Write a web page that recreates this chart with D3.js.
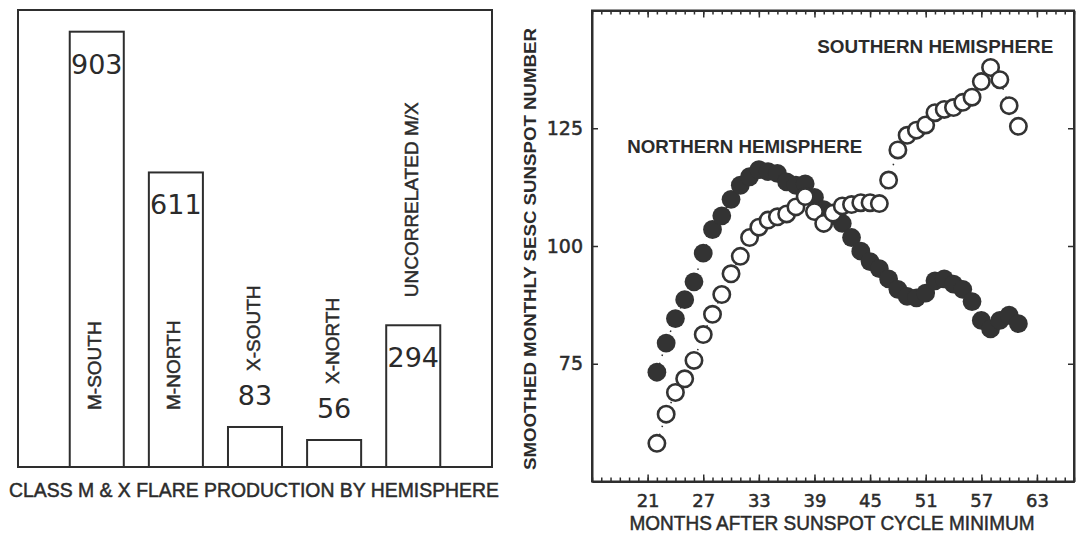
<!DOCTYPE html>
<html>
<head>
<meta charset="utf-8">
<script src="https://cdn.jsdelivr.net/npm/d3@7"></script>
<style>
body { margin: 0; background: #fff; }
svg { display: block; }
text { fill: #2b2b2b; }
</style>
</head>
<body>
<svg id="chart" width="1076" height="539"></svg>
<script>

// left panel: flare counts
const barLabels = ['M-SOUTH', 'M-NORTH', 'X-SOUTH', 'X-NORTH', 'UNCORRELATED M/X']
const barCounts = [903, 611, 83, 56, 294]

// right panel: smoothed sunspot numbers by month after minimum
const months = [22, 23, 24, 25, 26, 27, 28, 29, 30, 31, 32, 33, 34, 35, 36, 37, 38, 39, 40, 41,
	42, 43, 44, 45, 46, 47, 48, 49, 50, 51, 52, 53, 54, 55, 56, 57, 58, 59, 60, 61]

const southern = [58.1, 64.3, 68.9, 71.8, 75.7, 81.2, 85.5, 89.7, 94.1, 97.8,
	101.8, 104.0, 105.5, 106.2, 106.8, 108.3, 110.5, 107.3, 104.8, 107.0,
	108.5, 108.8, 109.2, 109.2, 109.0, 114.0, 120.4, 123.5, 124.6, 125.7,
	128.3, 129.0, 129.4, 130.5, 131.6, 134.9, 137.9, 135.3, 129.8, 125.4]

const northern = [73.2, 79.4, 84.6, 88.6, 92.4, 98.5, 103.5, 106.4, 109.9, 112.9,
	114.7, 116.2, 115.8, 115.4, 113.6, 112.9, 113.2, 110.3, 107.7, 106.6,
	104.8, 101.8, 98.9, 96.7, 95.2, 93.0, 90.8, 89.3, 89.0, 90.0,
	92.6, 93.0, 91.9, 90.8, 88.2, 84.2, 82.4, 84.2, 85.3, 83.5]

const monthTicks = [21, 27, 33, 39, 45, 51, 57, 63]
const valueTicks = [75, 100, 125]

const ink = '#2e2e2e'

let svg = d3.select('#chart')

/* ---------- left: bar chart ---------- */

let xBar = d3.scaleBand()
	.domain(barLabels)
	.range([18, 492])
	.paddingInner(0.317)
	.paddingOuter(0.654)

let yBar = d3.scaleLinear()
	.domain([0, 948])
	.range([467, 10])

let left = svg.append('g')

left.append('rect')
	.attr('x', xBar.range()[0])
	.attr('y', yBar.range()[1])
	.attr('width', xBar.range()[1] - xBar.range()[0])
	.attr('height', yBar.range()[0] - yBar.range()[1])
	.attr('fill', 'none')
	.attr('stroke', ink)
	.attr('stroke-width', 2)

let bars = barLabels.map((name, i) => ({ name: name, count: barCounts[i] }))

bars.forEach(b => {

	let x0 = xBar(b.name)
	let cx = x0 + xBar.bandwidth() / 2
	let top = yBar(b.count)
	let h = yBar(0) - top

	left.append('rect')
	.attr('x', x0)
	.attr('y', top)
	.attr('width', xBar.bandwidth())
	.attr('height', h)
	.attr('fill', 'none')
	.attr('stroke', ink)
	.attr('stroke-width', 2)

	let valueInside = h > 60
	let valueBase = valueInside ? top + 42 : top - 22

	left.append('text')
	.attr('x', cx)
	.attr('y', valueBase)
	.attr('text-anchor', 'middle')
	.style('font-family', 'DejaVu Sans')
	.style('font-size', '27px')
	.text(b.count)

	// rotated category label
	let start
	if (h > 200) start = yBar(0) - 57
	else if (valueInside) start = top - 28
	else start = valueBase - 34

	left.append('text')
	.attr('transform', 'translate(' + (cx - 2) + ',' + start + ') rotate(-90)')
	.attr('dominant-baseline', 'central')
	.attr('stroke', ink)
	.attr('stroke-width', 0.5)
	.style('font-family', 'Liberation Sans, Arial, sans-serif')
	.style('font-size', '19px')
	.text(b.name)
})

left.append('text')
	.attr('x', 254)
	.attr('y', 497)
	.attr('text-anchor', 'middle')
	.attr('textLength', 490)
	.attr('lengthAdjust', 'spacingAndGlyphs')
	.attr('stroke', ink)
	.attr('stroke-width', 0.5)
	.style('font-family', 'Liberation Sans, Arial, sans-serif')
	.style('font-size', '20px')
	.text('CLASS M & X FLARE PRODUCTION BY HEMISPHERE')

/* ---------- right: scatter ---------- */

let xM = d3.scaleLinear()
	.domain([15, 67])
	.range([592, 1074])

let yS = d3.scaleLinear()
	.domain([50, 150])
	.range([481.5, 10.5])

let right = svg.append('g')

let everyMonth = d3.range(15, 68)

// minor ticks, top and bottom
right.append('g')
	.attr('transform', 'translate(0,' + yS.range()[1] + ')')
	.call(d3.axisTop(xM).tickValues(everyMonth).tickSizeInner(-4).tickSizeOuter(0).tickFormat(''))

right.append('g')
	.attr('transform', 'translate(0,' + yS.range()[0] + ')')
	.call(d3.axisBottom(xM).tickValues(everyMonth).tickSizeInner(-4).tickSizeOuter(0).tickFormat(''))

// major ticks
right.append('g')
	.attr('transform', 'translate(0,' + yS.range()[1] + ')')
	.call(d3.axisTop(xM).tickValues(monthTicks).tickSizeInner(-7).tickSizeOuter(0).tickFormat(''))

let xAxis = right.append('g')
	.attr('class', 'xaxis')
	.attr('transform', 'translate(0,' + yS.range()[0] + ')')
	.call(d3.axisBottom(xM).tickValues(monthTicks).tickSizeInner(-7).tickSizeOuter(0).tickPadding(13))

let yAxis = right.append('g')
	.attr('class', 'yaxis')
	.attr('transform', 'translate(' + xM.range()[0] + ',0)')
	.call(d3.axisLeft(yS).tickValues(valueTicks).tickSizeInner(-6).tickSizeOuter(0).tickPadding(9))

right.append('g')
	.attr('transform', 'translate(' + xM.range()[1] + ',0)')
	.call(d3.axisRight(yS).tickValues(valueTicks).tickSizeInner(-6).tickSizeOuter(0).tickFormat(''))

right.selectAll('.domain').attr('stroke', ink).attr('stroke-width', 2)
right.selectAll('.tick line').attr('stroke', ink).attr('stroke-width', 1.5)

right.selectAll('.xaxis text, .yaxis text')
	.style('font-family', 'DejaVu Sans')
	.style('font-size', '18px')
	.attr('fill', ink)
	.attr('stroke', ink)
	.attr('stroke-width', 0.5)

right.selectAll('.yaxis text').style('font-size', '19px')

// frame
right.append('rect')
	.attr('x', xM.range()[0])
	.attr('y', yS.range()[1])
	.attr('width', xM.range()[1] - xM.range()[0])
	.attr('height', yS.range()[0] - yS.range()[1])
	.attr('fill', 'none')
	.attr('stroke', ink)
	.attr('stroke-width', 2)

let south = months.map((m, i) => ({ m: m, v: southern[i] }))
let north = months.map((m, i) => ({ m: m, v: northern[i] }))

let line = d3.line()
	.x(d => xM(d.m))
	.y(d => yS(d.v))

;[north, south].forEach(series => {
	right.append('path')
	.datum(series)
	.attr('d', line)
	.attr('fill', 'none')
	.attr('stroke', ink)
	.attr('stroke-width', 1.5)
	.attr('stroke-dasharray', '1.5,7')
})

right.append('g')
	.selectAll('circle')
	.data(north)
	.join('circle')
	.attr('cx', d => xM(d.m))
	.attr('cy', d => yS(d.v))
	.attr('r', 9.4)
	.attr('fill', '#333')

right.append('g')
	.selectAll('circle')
	.data(south)
	.join('circle')
	.attr('cx', d => xM(d.m))
	.attr('cy', d => yS(d.v))
	.attr('r', 8.2)
	.attr('fill', '#fff')
	.attr('stroke', '#333')
	.attr('stroke-width', 2.6)

// annotations
right.append('text')
	.attr('x', xM(18.8))
	.attr('y', yS(119.7))
	.attr('textLength', 235)
	.attr('lengthAdjust', 'spacingAndGlyphs')
	.style('font-family', 'Liberation Sans, Arial, sans-serif')
	.style('font-weight', 'bold')
	.style('font-size', '18px')
	.text('NORTHERN HEMISPHERE')

right.append('text')
	.attr('x', xM(39.3))
	.attr('y', yS(141))
	.attr('textLength', 236)
	.attr('lengthAdjust', 'spacingAndGlyphs')
	.style('font-family', 'Liberation Sans, Arial, sans-serif')
	.style('font-weight', 'bold')
	.style('font-size', '18px')
	.text('SOUTHERN HEMISPHERE')

// axis titles
right.append('text')
	.attr('x', 832)
	.attr('y', 530)
	.attr('text-anchor', 'middle')
	.attr('textLength', 405)
	.attr('lengthAdjust', 'spacingAndGlyphs')
	.attr('stroke', ink)
	.attr('stroke-width', 0.5)
	.style('font-family', 'Liberation Sans, Arial, sans-serif')
	.style('font-size', '20px')
	.text('MONTHS AFTER SUNSPOT CYCLE MINIMUM')

right.append('text')
	.attr('transform', 'translate(530,249) rotate(-90)')
	.attr('text-anchor', 'middle')
	.attr('dominant-baseline', 'central')
	.attr('textLength', 442)
	.attr('lengthAdjust', 'spacingAndGlyphs')
	.style('font-family', 'Liberation Sans, Arial, sans-serif')
	.style('font-weight', 'bold')
	.style('font-size', '17px')
	.text('SMOOTHED MONTHLY SESC SUNSPOT NUMBER')

</script>
</body>
</html>
